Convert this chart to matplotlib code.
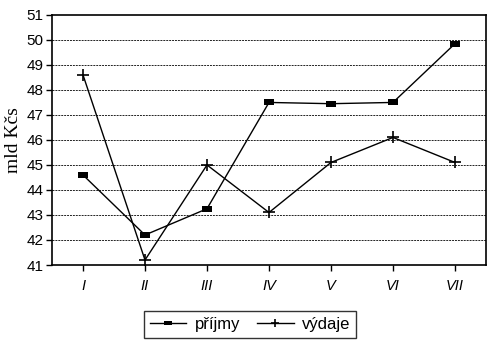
import matplotlib
matplotlib.use("Agg")
import matplotlib.pyplot as plt

# data
months = ["I", "II", "III", "IV", "V", "VI", "VII"]
prijmy = [44.6, 42.2, 43.25, 47.5, 47.45, 47.5, 49.85]
vydaje = [48.6, 41.2, 45.0, 43.1, 45.1, 46.1, 45.1]
y_ticks = list(range(41, 52))

plt.rcParams["font.family"] = ["Liberation Sans", "DejaVu Sans"]

fig = plt.figure(figsize=(5.0, 3.55), dpi=100)
ax = fig.add_axes([0.104, 0.2535, 0.868, 0.7045])

x = list(range(1, len(months) + 1))

# horizontal grid lines (dotted in the scan)
for yv in y_ticks[1:-1]:
    ax.axhline(yv, color="#222222", lw=0.7, ls=(0, (2, 1)), zorder=1)

# flat rectangle marker, as in the print
rect = [(-1, -0.6), (1, -0.6), (1, 0.6), (-1, 0.6), (-1, -0.6)]
ax.plot(x, prijmy, color="black", lw=1.0, marker=rect, ms=7,
        markeredgewidth=0, label="příjmy", zorder=3)
ax.plot(x, vydaje, color="black", lw=1.0, marker="+", ms=8,
        markeredgewidth=1.2, label="výdaje", zorder=3)

ax.set_xlim(0.5, 7.5)
ax.set_ylim(41, 51)
ax.set_xticks(x)
ax.set_xticklabels(months, fontsize=10.5, style="italic")
ax.set_yticks(y_ticks)
ax.set_yticklabels([str(v) for v in y_ticks], fontsize=11)
ax.tick_params(axis="both", direction="out", length=4, width=1, color="black")
ax.tick_params(axis="x", pad=6)
ax.tick_params(axis="y", pad=2)

for side in ["left", "right", "top", "bottom"]:
    ax.spines[side].set_linewidth(1.2)
    ax.spines[side].set_color("black")

ax.set_ylabel("mld Kčs", family=["Liberation Serif", "DejaVu Serif"],
              fontsize=14, labelpad=3)

leg = fig.legend(loc="center", bbox_to_anchor=(0.5, 0.086), ncol=2,
                 frameon=True, fancybox=False, edgecolor="black",
                 fontsize=12, handlelength=2.2, columnspacing=1.0,
                 borderpad=0.35, handletextpad=0.5, markerscale=0.8)

fig.savefig("out.png", dpi=100, facecolor="white")
